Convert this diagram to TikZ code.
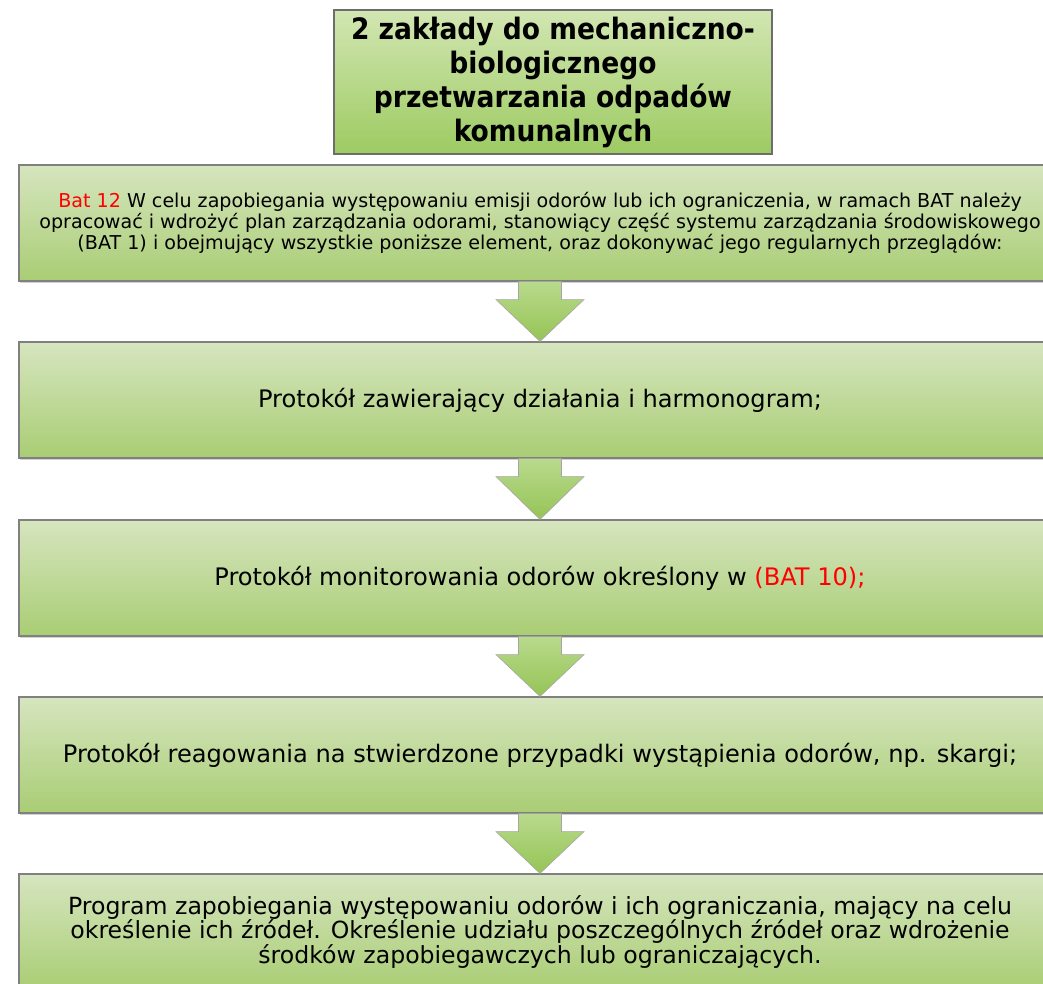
\documentclass[tikz,border=0pt]{standalone}
\usepackage{fontspec}
\setmainfont{DejaVu Sans}
\newfontfamily\titlefont{DejaVu Sans Condensed}
\usetikzlibrary{calc,shadows}
\definecolor{boxtop}{HTML}{D6E5BF}
\definecolor{boxbot}{HTML}{A9CD74}
\definecolor{ttop}{HTML}{D2E6B2}
\definecolor{tbot}{HTML}{9DCB62}
\definecolor{arrtop}{HTML}{B8DA8C}
\definecolor{arrbot}{HTML}{96C456}
\definecolor{edge}{HTML}{808080}
\definecolor{redtxt}{HTML}{FF0000}
\tikzset{
  greenbox/.style={draw=edge, line width=1.2pt, top color=boxtop, bottom color=boxbot,
    minimum width=1042pt, minimum height=116pt, inner sep=0pt, align=center,
    drop shadow={shadow xshift=1pt, shadow yshift=-1.5pt, opacity=0.35, fill=gray}},
  titlebox/.style={draw=edge!85!black, line width=1.2pt, top color=ttop, bottom color=tbot,
    minimum width=438pt, minimum height=144pt, inner sep=0pt, align=center,
    drop shadow={shadow xshift=1pt, shadow yshift=-1.5pt, opacity=0.35, fill=gray}},
  blockarrow/.style={draw=gray!70, line width=0.6pt, top color=arrtop, bottom color=arrbot},
  bigtext/.style={font=\fontsize{24.1}{26}\selectfont}
}
\begin{document}
\begin{tikzpicture}[x=1pt,y=-1pt]
\useasboundingbox (0,0) rectangle (1043,984);
\clip (0,0) rectangle (1043,984);
\fill[white] (0,0) rectangle (1043,984);
\node[titlebox, font=\titlefont\fontsize{29.5}{34}\selectfont\bfseries] (t) at (553,82)
  {2 zakłady do mechaniczno-\\biologicznego\\przetwarzania odpadów\\komunalnych};
\node[greenbox, font=\fontsize{19.1}{20.8}\selectfont] (b2) at (540,223)
  {\textcolor{redtxt}{Bat 12} W celu zapobiegania występowaniu emisji odorów lub ich ograniczenia, w ramach BAT należy\\
   opracować i wdrożyć plan zarządzania odorami, stanowiący część systemu zarządzania środowiskowego\\
   (BAT 1) i obejmujący wszystkie poniższe element, oraz dokonywać jego regularnych przeglądów:};
\node[greenbox, bigtext] (b3) at (540,400)
  {Protokół zawierający działania i harmonogram;};
\node[greenbox, bigtext] (b4) at (540,578)
  {Protokół monitorowania odorów określony w \textcolor{redtxt}{(BAT 10);}};
\node[greenbox, bigtext] (b5) at (540,755)
  {Protokół reagowania na stwierdzone przypadki wystąpienia odorów, np. skargi;};
\node[greenbox, font=\fontsize{23.6}{22.2}\selectfont] (b6) at (540,932)
  {Program zapobiegania występowaniu odorów i ich ograniczania, mający na celu\\
   określenie ich źródeł. Określenie udziału poszczególnych źródeł oraz wdrożenie\\
   środków zapobiegawczych lub ograniczających.};
\foreach \a/\b in {b2/b3,b3/b4,b4/b5,b5/b6}{
  \path[blockarrow] ($(\a.south)+(-21.5,0)$) -- ($(\a.south)+(21.5,0)$)
    -- ($(\a.south)+(21.5,18)$) -- ($(\a.south)+(44,18)$) -- (\b.north)
    -- ($(\a.south)+(-44,18)$) -- ($(\a.south)+(-21.5,18)$) -- cycle;
}
\end{tikzpicture}
\end{document}
